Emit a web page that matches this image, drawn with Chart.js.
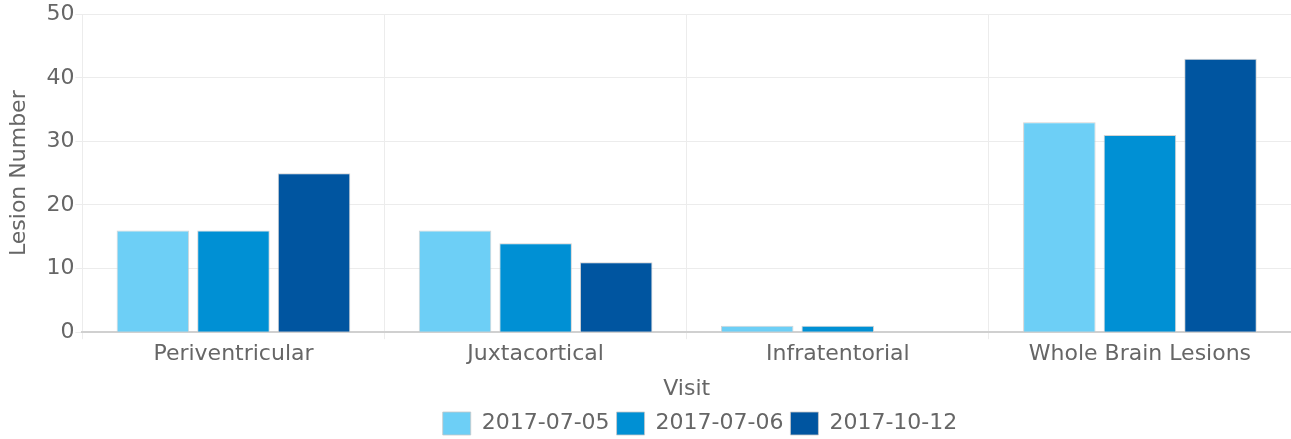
<!DOCTYPE html>
<html>
<head>
<meta charset="utf-8">
<script src="https://cdn.jsdelivr.net/npm/chart.js@4"></script>
<style>
  html, body { margin: 0; padding: 0; background: #fff; }
  #wrap { width: 1291px; height: 439px; position: relative; }
</style>
</head>
<body>
<div id="wrap"><canvas id="chart"></canvas></div>
<script>
const categories = ['Periventricular', 'Juxtacortical', 'Infratentorial', 'Whole Brain Lesions'];
const visits = ['2017-07-05', '2017-07-06', '2017-10-12'];
const visit1 = [16, 16, 1, 33];
const visit2 = [16, 14, 1, 31];
const visit3 = [25, 11, 0, 43];
const yTicks = [0, 10, 20, 30, 40, 50];

const COLORS = ['#6dcff6', '#0090d4', '#0055a0'];
const TEXT = '#666666';
const LEGEND_PAD = 7;

Chart.defaults.font.family = '"DejaVu Sans", sans-serif';
Chart.defaults.font.size = 22;
Chart.defaults.color = TEXT;

// the legend sits a bit right of centre and close to the bottom edge in the original
const legendShift = {
    id: 'legendShift',
    afterLayout(chart) {
        const lg = chart.legend;
        const dx = 700 - (lg.left + lg.right) / 2;
        const dy = (412 - LEGEND_PAD) - lg.top;
        lg.left += dx;
        lg.right += dx;
        lg.top += dy;
        lg.bottom += dy;
    }
};

new Chart(document.getElementById('chart').getContext('2d'), {
    type: 'bar',
    data: {
        labels: categories,
        datasets: [visit1, visit2, visit3].map((d, i) => ({
            label: visits[i],
            data: d,
            backgroundColor: COLORS[i],
            borderColor: 'rgba(200,200,200,0.8)',
            borderWidth: 1
        }))
    },
    options: {
        responsive: true,
        maintainAspectRatio: false,
        animation: false,
        layout: { padding: { top: 4, right: 0, left: 4, bottom: 0 } },
        plugins: {
            legend: {
                position: 'bottom',
                labels: { boxWidth: 28, boxHeight: 23, padding: LEGEND_PAD, color: TEXT, font: { size: 22 } }
            },
            tooltip: { enabled: false }
        },
        scales: {
            x: {
                grid: { color: '#ececec', offset: true, tickLength: 7 },
                border: { color: '#d0d0d0', width: 2 },
                ticks: { color: TEXT, font: { size: 22 }, padding: 2 },
                title: { display: true, text: 'Visit', color: TEXT, font: { size: 22 }, padding: { top: 6, bottom: -3 } }
            },
            y: {
                min: 0, max: 50,
                afterBuildTicks: axis => { axis.ticks = yTicks.map(v => ({ value: v })); },
                grid: { color: '#ececec', tickLength: 7 },
                border: { display: false },
                ticks: { color: TEXT, font: { size: 22 }, padding: 1 },
                title: { display: true, text: 'Lesion Number', color: TEXT, font: { size: 22 }, padding: { top: 2, bottom: 13 } }
            }
        }
    },
    plugins: [legendShift]
});
</script>
</body>
</html>
